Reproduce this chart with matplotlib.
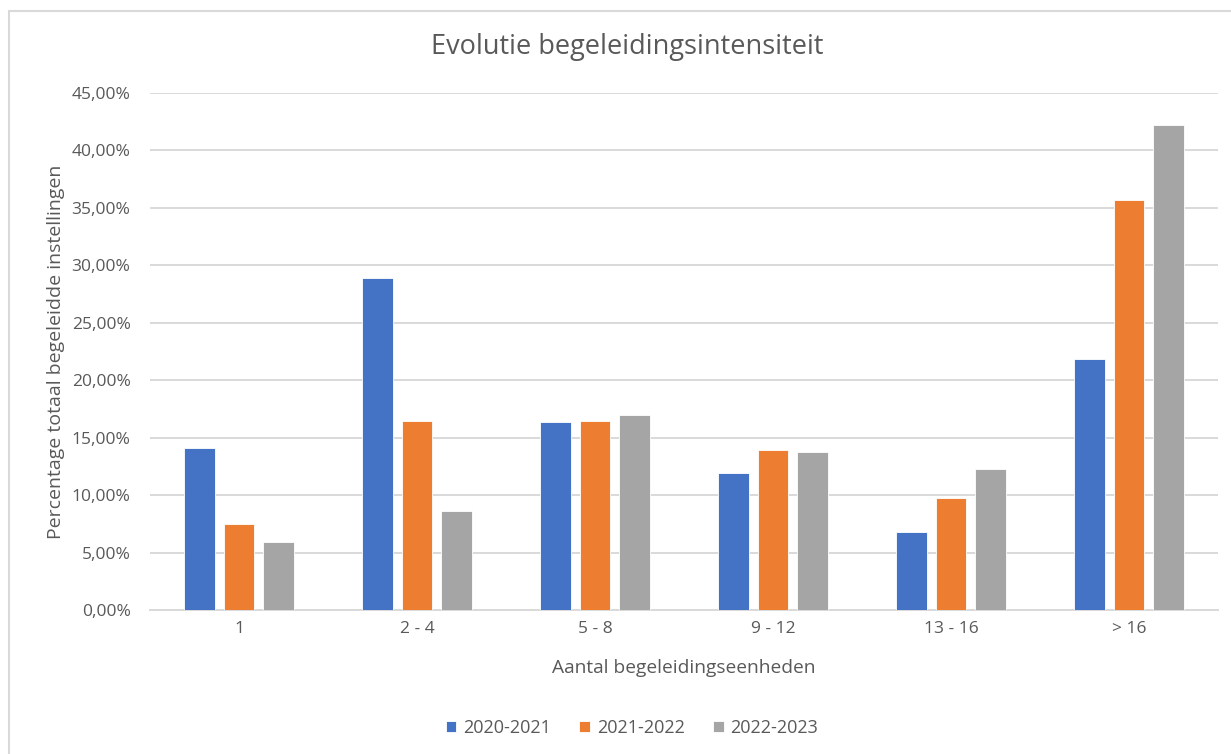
import matplotlib
matplotlib.use("Agg")
import matplotlib.pyplot as plt
from matplotlib.patches import Rectangle
from matplotlib.ticker import FuncFormatter, MultipleLocator
import numpy as np

categories = ["1", "2 - 4", "5 - 8", "9 - 12", "13 - 16", "> 16"]
series_names = ["2020-2021", "2021-2022", "2022-2023"]
v2020 = [14.14, 28.92, 16.38, 11.90, 6.77, 21.84]
v2021 = [7.52, 16.49, 16.49, 13.97, 9.73, 35.65]
v2022 = [5.92, 8.65, 16.96, 13.76, 12.25, 42.19]
colors = ["#4472C4", "#ED7D31", "#A5A5A5"]

plt.rcParams['font.family'] = ['Open Sans', 'DejaVu Sans']
txt = "#595959"

fig = plt.figure(figsize=(12.31, 7.54), dpi=100)
ax = fig.add_axes([150/1231, 1-610/754, (1218-150)/1231, (610-93)/754])

x = np.arange(len(categories))
width = 0.174
pitch = 0.221
for i, (vals, name) in enumerate(zip([v2020, v2021, v2022], series_names)):
    ax.bar(x + (i-1)*pitch, vals, width, color=colors[i], label=name,
           edgecolor="white", linewidth=0.6, zorder=3)

ax.set_xlim(-0.5, len(categories)-0.5)
ax.set_ylim(0, 45)
ax.yaxis.set_major_locator(MultipleLocator(5))
ax.yaxis.set_major_formatter(FuncFormatter(lambda v, p: f"{v:.2f}".replace(".", ",") + "%"))
ax.grid(axis="y", color="#D9D9D9", linewidth=1.4, zorder=0)
for s in ["top", "right", "left"]:
    ax.spines[s].set_visible(False)
ax.spines["bottom"].set_color("#D9D9D9")
ax.spines["bottom"].set_linewidth(1.4)
ax.tick_params(axis="both", length=0, colors=txt, labelsize=12.5)
ax.tick_params(axis="y", pad=14)
ax.tick_params(axis="x", pad=8)
ax.set_xticks(x)
ax.set_xticklabels(categories)

ax.set_xlabel("Aantal begeleidingseenheden", color=txt, fontsize=13.8, labelpad=16)
ax.set_ylabel("Percentage totaal begeleidde instellingen", color=txt, fontsize=14, labelpad=5)
fig.text(627/1231, 1-47/754, "Evolutie begeleidingsintensiteit", ha="center", va="center",
         color=txt, fontsize=19.5)

leg = fig.legend(loc="center", bbox_to_anchor=(632/1231, 1-728/754), ncol=3, frameon=False,
                 fontsize=13, handlelength=0.6, handleheight=0.6, columnspacing=1.6,
                 handletextpad=0.35)
for t in leg.get_texts():
    t.set_color(txt)

fig.patches.append(Rectangle((9/1231, -0.1), 1.2, 1.1 - 11/754, transform=fig.transFigure,
                             fill=False, edgecolor="#D9D9D9", linewidth=1.5))

fig.savefig("out.png", dpi=100)
